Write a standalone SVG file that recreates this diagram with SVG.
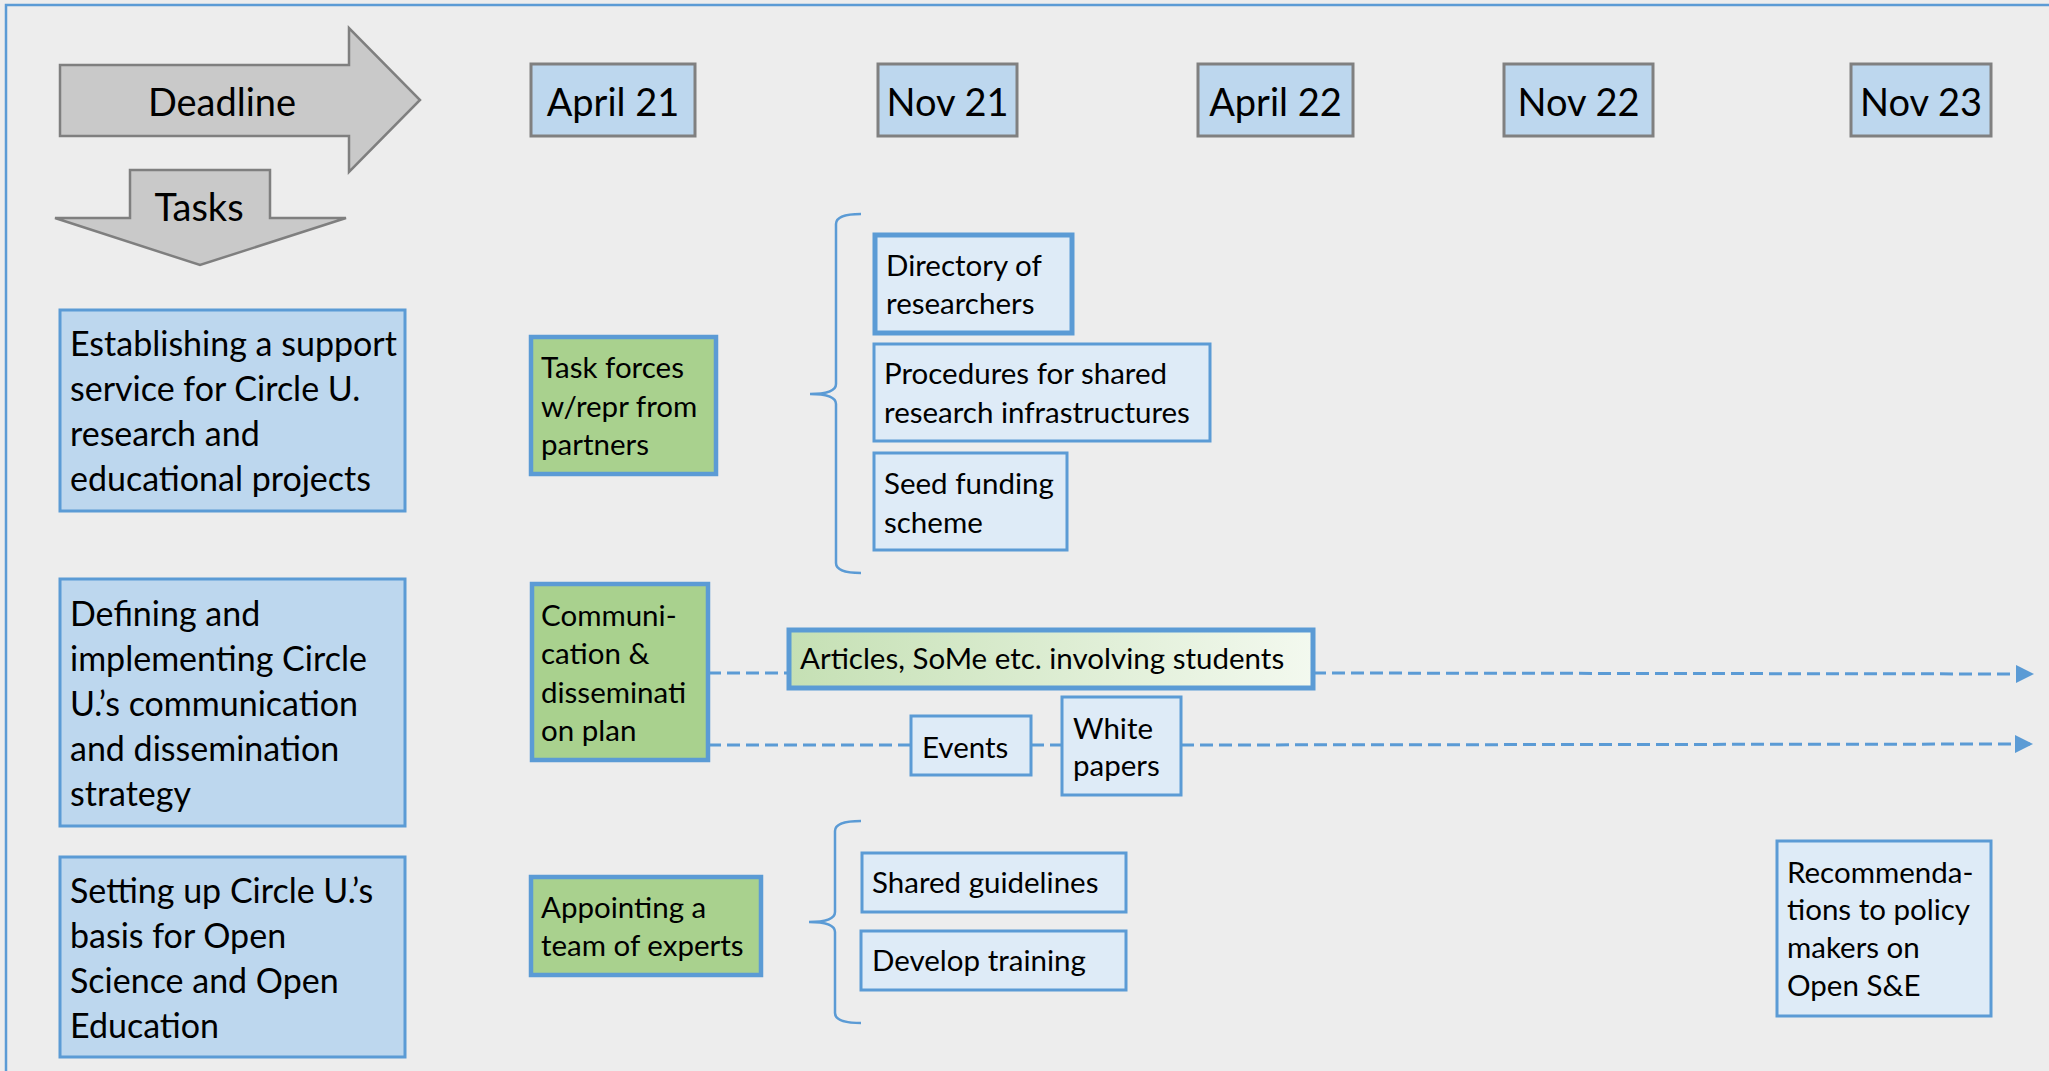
<svg xmlns="http://www.w3.org/2000/svg" width="2049" height="1071" viewBox="0 0 2049 1071">
<style>
text{font-family:Lato,"Liberation Sans",sans-serif;fill:#000}
.big{font-size:38px}
.task{font-size:34px}
.sm{font-size:29.5px}
.date{fill:#bdd7ee;stroke:#808080;stroke-width:3}
.arr{fill:#c9c9c9;stroke:#7f7f7f;stroke-width:2.5}
.tb{fill:#bdd7ee;stroke:#5b9bd5;stroke-width:3}
.gb{fill:#a9d18e;stroke:#5b9bd5;stroke-width:4.5}
.lb{fill:#deebf7;stroke:#5b9bd5;stroke-width:3}
.brace{fill:none;stroke:#5b9bd5;stroke-width:2.5}
.dash{fill:none;stroke:#5b9bd5;stroke-width:3;stroke-dasharray:13 6}
</style>
<defs>
<linearGradient id="gr" x1="0" y1="0" x2="1" y2="0">
<stop offset="0" stop-color="#c5e0b4"/>
<stop offset="1" stop-color="#f3f9ef"/>
</linearGradient>
<marker id="ah" markerUnits="userSpaceOnUse" markerWidth="20" markerHeight="18" refX="18" refY="9" orient="auto">
<path d="M0,0 L18,9 L0,18 Z" fill="#5b9bd5"/>
</marker>
</defs>
<rect x="0" y="0" width="2049" height="1071" fill="#ededed"/>
<rect x="6" y="5" width="2070" height="1090" fill="none" stroke="#5b9bd5" stroke-width="2.5"/>

<g id="deadline">
<path class="arr" d="M60,65 L349,65 L349,28 L420,100 L349,172 L349,136 L60,136 Z"/>
<text class="big" x="222" y="116" text-anchor="middle">Deadline</text>
</g>
<g id="tasks">
<path class="arr" d="M130,170 L270,170 L270,218 L346,218 L200,265 L55,218 L130,218 Z"/>
<text class="big" x="199" y="221" text-anchor="middle">Tasks</text>
</g>

<g id="d-apr21"><rect class="date" x="531" y="64" width="164" height="72"/><text class="big" x="613" y="116" text-anchor="middle">April 21</text></g>
<g id="d-nov21"><rect class="date" x="878" y="64" width="139" height="72"/><text class="big" x="947.5" y="116" text-anchor="middle">Nov 21</text></g>
<g id="d-apr22"><rect class="date" x="1198" y="64" width="155" height="72"/><text class="big" x="1275.5" y="116" text-anchor="middle">April 22</text></g>
<g id="d-nov22"><rect class="date" x="1504" y="64" width="149" height="72"/><text class="big" x="1578.5" y="116" text-anchor="middle">Nov 22</text></g>
<g id="d-nov23"><rect class="date" x="1851" y="64" width="140" height="72"/><text class="big" x="1921" y="116" text-anchor="middle">Nov 23</text></g>

<g id="task1">
<rect class="tb" x="60" y="310" width="345" height="201"/>
<text class="task"><tspan x="70" y="356">Establishing a support</tspan><tspan x="70" y="401">service for Circle U.</tspan><tspan x="70" y="446">research and</tspan><tspan x="70" y="491">educational projects</tspan></text>
</g>
<g id="task2">
<rect class="tb" x="60" y="579" width="345" height="247"/>
<text class="task"><tspan x="70" y="626">Defining and</tspan><tspan x="70" y="671">implementing Circle</tspan><tspan x="70" y="716">U.’s communication</tspan><tspan x="70" y="761">and dissemination</tspan><tspan x="70" y="806">strategy</tspan></text>
</g>
<g id="task3">
<rect class="tb" x="60" y="857" width="345" height="200"/>
<text class="task"><tspan x="70" y="903">Setting up Circle U.’s</tspan><tspan x="70" y="948">basis for Open</tspan><tspan x="70" y="993">Science and Open</tspan><tspan x="70" y="1038">Education</tspan></text>
</g>

<g id="taskforces">
<rect class="gb" x="531" y="337" width="185" height="137"/>
<text class="sm"><tspan x="541" y="378">Task forces</tspan><tspan x="541" y="417">w/repr from</tspan><tspan x="541" y="455">partners</tspan></text>
</g>
<g id="complan">
<rect class="gb" x="532" y="584" width="176" height="176"/>
<text class="sm"><tspan x="541" y="626">Communi-</tspan><tspan x="541" y="664">cation &amp;</tspan><tspan x="541" y="703">disseminati</tspan><tspan x="541" y="741">on plan</tspan></text>
</g>
<g id="appointing">
<rect class="gb" x="531" y="877" width="230" height="98"/>
<text class="sm"><tspan x="541" y="918">Appointing a</tspan><tspan x="541" y="956">team of experts</tspan></text>
</g>

<g id="brace1"><path class="brace" d="M861,214 Q836,214 836,224 L836,384 Q836,394 810,394 Q836,394 836,404 L836,563 Q836,573 861,573"/></g>
<g id="brace2"><path class="brace" d="M861,821 Q835,821 835,831 L835,912 Q835,922 809,922 Q835,922 835,932 L835,1013 Q835,1023 861,1023"/></g>

<g id="directory">
<rect x="875" y="235" width="197" height="98" fill="#deebf7" stroke="#5b9bd5" stroke-width="5"/>
<text class="sm"><tspan x="886" y="276">Directory of</tspan><tspan x="886" y="314">researchers</tspan></text>
</g>
<g id="procedures">
<rect class="lb" x="874" y="344" width="336" height="97"/>
<text class="sm"><tspan x="884" y="384">Procedures for shared</tspan><tspan x="884" y="423">research infrastructures</tspan></text>
</g>
<g id="seed">
<rect class="lb" x="874" y="453" width="193" height="97"/>
<text class="sm"><tspan x="884" y="494">Seed funding</tspan><tspan x="884" y="533">scheme</tspan></text>
</g>

<g id="connectors">
<line class="dash" x1="708" y1="673" x2="789" y2="673"/>
<line class="dash" x1="1313" y1="673" x2="2034" y2="674" marker-end="url(#ah)"/>
<line class="dash" x1="708" y1="745" x2="911" y2="745"/>
<line class="dash" x1="1031" y1="745" x2="1062" y2="745"/>
<line class="dash" x1="1181" y1="745" x2="2033" y2="744" marker-end="url(#ah)"/>
</g>

<g id="articles">
<rect x="789" y="630" width="524" height="58" fill="url(#gr)" stroke="#5b9bd5" stroke-width="5"/>
<text class="sm" x="800" y="669">Articles, SoMe etc. involving students</text>
</g>
<g id="events">
<rect class="lb" x="911" y="716" width="120" height="59"/>
<text class="sm" x="922" y="758">Events</text>
</g>
<g id="whitepapers">
<rect class="lb" x="1062" y="697" width="119" height="98"/>
<text class="sm"><tspan x="1073" y="739">White</tspan><tspan x="1073" y="776">papers</tspan></text>
</g>

<g id="guidelines">
<rect class="lb" x="862" y="853" width="264" height="59"/>
<text class="sm" x="872" y="893">Shared guidelines</text>
</g>
<g id="training">
<rect class="lb" x="861" y="931" width="265" height="59"/>
<text class="sm" x="872" y="971">Develop training</text>
</g>
<g id="recommendations">
<rect class="lb" x="1777" y="841" width="214" height="175"/>
<text class="sm"><tspan x="1787" y="883">Recommenda-</tspan><tspan x="1787" y="920">tions to policy</tspan><tspan x="1787" y="958">makers on</tspan><tspan x="1787" y="996">Open S&amp;E</tspan></text>
</g>
</svg>
